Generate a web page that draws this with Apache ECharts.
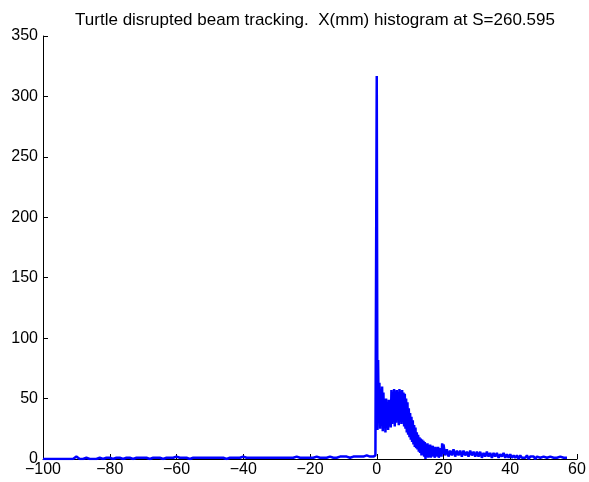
<!DOCTYPE html>
<html>
<head>
<meta charset="utf-8">
<script src="https://cdn.jsdelivr.net/npm/echarts@6/dist/echarts.min.js"></script>
<style>
  html, body { margin: 0; padding: 0; background: #fff; }
  #chart { width: 589px; height: 482px; }
</style>
</head>
<body>
<div id="chart"></div>
<script>
// Histogram of X (mm) at S=260.595, stored as three runs of bins with their own widths.

// Left tail: 1 mm bins starting at -100 mm
const leftTailStart = -100;
const leftTailWidth = 1;
const leftTailCounts = [
  0, 0, 0, 0, 0, 0, 0, 0, 0, 0,
  2, 0, 0, 1, 0, 0, 0, 1, 0, 1,
  1, 0, 1, 1, 0, 1, 1, 0, 1, 1,
  1, 1, 0, 1, 1, 1, 0, 1, 1, 1,
  2, 1, 1, 1, 0, 1, 1, 1, 1, 1,
  1, 1, 1, 1, 1, 0, 1, 1, 1, 1,
  2, 1, 1, 1, 1, 1, 1, 1, 1, 1,
  1, 1, 1, 1, 1, 1, 2, 1, 1, 1,
  1, 1, 2, 1, 1, 1, 2, 1, 1, 2,
  2, 2, 1, 2, 2, 2, 2, 3, 2
];

// Core: 0.2 mm bins starting at -1.0 mm (spike at 0 and the disrupted shoulder)
const coreStart = -1.0;
const coreWidth = 0.2;
const coreCounts = [
  2, 3, 2, 3, 3,
  317,
  24, 82, 30, 63, 25, 58, 28, 60, 23, 55,
  27, 48, 22, 50, 26, 46, 24, 49, 30, 45,
  26, 57, 29, 55, 32, 58, 27, 56, 30, 57,
  33, 55, 28, 58, 31, 56, 29, 57, 32, 55,
  27, 54, 25, 50, 22, 47, 20, 42, 18, 38,
  16, 35, 14, 32, 12, 28, 10, 26, 9, 22,
  8, 20, 6, 18, 5, 17, 3, 16, 4, 15,
  2, 14, 0, 12, 3, 13, 1, 11, 2, 12,
  1, 10, 3, 11, 2, 9, 1, 10, 3, 9,
  2, 10, 1, 8, 3, 9, 2, 13, 4, 12
];

// Right tail: 0.5 mm bins starting at 20.5 mm
const rightTailStart = 20.5;
const rightTailWidth = 0.5;
const rightTailCounts = [
  3, 8, 2, 7, 3, 8, 2, 7, 3, 7,
  2, 7, 3, 6, 2, 7, 3, 6, 2, 6,
  2, 6, 1, 5, 2, 6, 2, 5, 1, 5,
  2, 5, 1, 4, 2, 5, 1, 4, 1, 4,
  1, 3, 1, 3, 0, 3, 1, 2, 1, 3,
  0, 2, 1, 2, 0, 2, 1, 1, 0, 2,
  1, 1, 0, 2, 1, 1, 0, 1, 1, 2,
  1, 1, 0, 1
];

const xTicks = [-100, -80, -60, -40, -20, 0, 20, 40, 60];
const yTicks = [0, 50, 100, 150, 200, 250, 300, 350];

const titleText = 'Turtle disrupted beam tracking.  X(mm) histogram at S=260.595';

function binsToPoints(start, width, counts) {
  return counts.map((c, i) => [Math.round((start + i * width) * 1000) / 1000, c]);
}

const points = []
  .concat(binsToPoints(leftTailStart, leftTailWidth, leftTailCounts))
  .concat(binsToPoints(coreStart, coreWidth, coreCounts))
  .concat(binsToPoints(rightTailStart, rightTailWidth, rightTailCounts));

const FONT = "'Liberation Sans', Arial, Helvetica, sans-serif";

const axisCommon = {
  axisLine: { show: true, onZero: false, lineStyle: { color: '#000', width: 1 } },
  axisTick: { show: true, inside: true, length: 5, lineStyle: { color: '#000', width: 1 } },
  splitLine: { show: false },
  axisLabel: {
    color: '#000',
    fontFamily: FONT,
    fontSize: 16,
    formatter: v => String(v).replace('-', '\u2212')
  }
};

const chart = echarts.init(document.getElementById('chart'), null, { renderer: 'canvas' });
chart.setOption({
  animation: false,
  backgroundColor: '#fff',
  grid: { left: 43, right: 12, top: 36, bottom: 23, containLabel: false },
  graphic: [{
    type: 'text',
    x: 315,
    y: 20,
    style: {
      text: titleText,
      fill: '#000',
      font: '17px ' + FONT,
      textAlign: 'center',
      textVerticalAlign: 'middle'
    }
  }],
  xAxis: Object.assign({}, axisCommon, {
    type: 'value',
    min: xTicks[0],
    max: xTicks[xTicks.length - 1],
    interval: xTicks[1] - xTicks[0],
    axisLabel: Object.assign({}, axisCommon.axisLabel, { margin: 3 })
  }),
  yAxis: Object.assign({}, axisCommon, {
    type: 'value',
    min: yTicks[0],
    max: yTicks[yTicks.length - 1],
    interval: yTicks[1] - yTicks[0],
    axisLabel: Object.assign({}, axisCommon.axisLabel, { margin: 5 })
  }),
  series: [{
    type: 'line',
    data: points,
    showSymbol: false,
    sampling: null,
    lineStyle: { color: '#0000ff', width: 2.5 },
    itemStyle: { color: '#0000ff' },
    z: 3
  }]
});
</script>
</body>
</html>
